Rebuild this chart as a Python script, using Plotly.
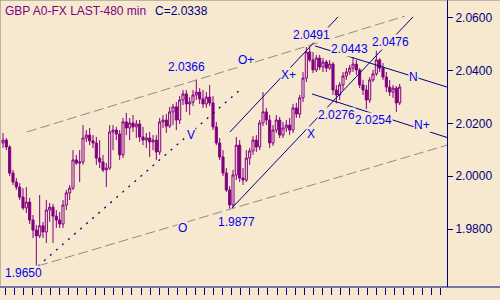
import plotly.graph_objects as go

# ---- data (GBP 480-min candles) ----
opens = [2.0126, 2.0137, 2.0111, 2.0012, 1.9978, 1.9959, 1.9921, 1.9880, 1.9902, 1.9834,
         1.9796, 1.9774, 1.9812, 1.9789, 1.9872, 1.9883, 1.9849, 1.9834, 1.9819, 1.9891,
         1.9937, 1.9955, 2.0062, 2.0050, 2.0054, 2.0145, 2.0156, 2.0134, 2.0126, 2.0069,
         2.0054, 2.0024, 2.0031, 2.0168, 2.0175, 2.0160, 2.0081, 2.0206, 2.0183, 2.0202,
         2.0187, 2.0198, 2.0149, 2.0137, 2.0145, 2.0130, 2.0137, 2.0092, 2.0206, 2.0213,
         2.0190, 2.0244, 2.0263, 2.0213, 2.0289, 2.0312, 2.0274, 2.0281, 2.0308, 2.0319,
         2.0293, 2.0274, 2.0300, 2.0278, 2.0187, 2.0126, 2.0073, 2.0012, 1.9948, 1.9891,
         2.0005, 2.0118, 1.9993, 1.9986, 2.0069, 2.0096, 2.0137, 2.0111, 2.0202, 2.0244,
         2.0213, 2.0126, 2.0175, 2.0213, 2.0156, 2.0183, 2.0194, 2.0175, 2.0259, 2.0236,
         2.0297, 2.0372, 2.0471, 2.0441, 2.0403, 2.0448, 2.0414, 2.0433, 2.0410, 2.0425,
         2.0327, 2.0308, 2.0346, 2.0380, 2.0395, 2.0410, 2.0425, 2.0403, 2.0346, 2.0327,
         2.0289, 2.0365, 2.0388, 2.0441, 2.0410, 2.0376, 2.0338, 2.0319, 2.0334, 2.0278]
highs = [2.0164, 2.0145, 2.0118, 2.0024, 1.9993, 1.9974, 1.9955, 1.9959, 1.9918, 1.9853,
         1.9815, 1.9929, 1.9827, 1.9910, 1.9899, 1.9895, 1.9872, 1.9865, 1.9910, 1.9948,
         1.9967, 2.0099, 2.0081, 2.0099, 2.0194, 2.0175, 2.0183, 2.0156, 2.0149, 2.0137,
         2.0081, 2.0050, 2.0194, 2.0194, 2.0187, 2.0175, 2.0221, 2.0240, 2.0221, 2.0232,
         2.0213, 2.0213, 2.0187, 2.0164, 2.0168, 2.0156, 2.0156, 2.0221, 2.0232, 2.0236,
         2.0263, 2.0274, 2.0281, 2.0304, 2.0327, 2.0327, 2.0300, 2.0327, 2.0366, 2.0334,
         2.0327, 2.0319, 2.0346, 2.0304, 2.0206, 2.0145, 2.0099, 2.0031, 1.9963, 2.0024,
         2.0149, 2.0137, 2.0031, 2.0099, 2.0107, 2.0152, 2.0156, 2.0213, 2.0319, 2.0259,
         2.0232, 2.0194, 2.0232, 2.0225, 2.0206, 2.0213, 2.0221, 2.0274, 2.0278, 2.0308,
         2.0395, 2.0490, 2.0491, 2.0471, 2.0460, 2.0460, 2.0448, 2.0441, 2.0441, 2.0433,
         2.0346, 2.0357, 2.0395, 2.0410, 2.0422, 2.0452, 2.0441, 2.0410, 2.0365, 2.0346,
         2.0376, 2.0403, 2.0476, 2.0448, 2.0429, 2.0395, 2.0365, 2.0346, 2.0342, 2.0350]
lows = [2.0107, 2.0099, 2.0001, 1.9967, 1.9948, 1.9910, 1.9872, 1.9861, 1.9819, 1.9766,
        1.9650, 1.9766, 1.9766, 1.9747, 1.9827, 1.9747, 1.9804, 1.9804, 1.9804, 1.9872,
        1.9910, 1.9948, 2.0043, 1.9978, 2.0043, 2.0130, 2.0118, 2.0107, 2.0043, 2.0031,
        2.0016, 1.9959, 2.0024, 2.0099, 2.0137, 2.0062, 2.0069, 2.0156, 2.0137, 2.0168,
        2.0145, 2.0130, 2.0118, 2.0107, 2.0073, 2.0099, 2.0062, 2.0081, 2.0183, 2.0164,
        2.0183, 2.0194, 2.0175, 2.0198, 2.0270, 2.0244, 2.0232, 2.0266, 2.0289, 2.0274,
        2.0259, 2.0259, 2.0266, 2.0175, 2.0118, 2.0062, 2.0001, 1.9940, 1.9877, 1.9880,
        1.9986, 1.9978, 1.9967, 1.9978, 2.0043, 2.0081, 2.0092, 2.0099, 2.0190, 2.0194,
        2.0107, 2.0115, 2.0164, 2.0145, 2.0145, 2.0168, 2.0156, 2.0164, 2.0221, 2.0221,
        2.0281, 2.0357, 2.0433, 2.0391, 2.0395, 2.0403, 2.0395, 2.0395, 2.0403, 2.0308,
        2.0276, 2.0289, 2.0327, 2.0365, 2.0384, 2.0395, 2.0384, 2.0334, 2.0308, 2.0254,
        2.0278, 2.0357, 2.0380, 2.0395, 2.0365, 2.0319, 2.0304, 2.0297, 2.0244, 2.0270]
closes = [2.0137, 2.0111, 2.0012, 1.9978, 1.9959, 1.9921, 1.9880, 1.9902, 1.9834, 1.9796,
          1.9774, 1.9812, 1.9789, 1.9872, 1.9883, 1.9849, 1.9834, 1.9819, 1.9891, 1.9937,
          1.9955, 2.0062, 2.0050, 2.0054, 2.0145, 2.0156, 2.0134, 2.0126, 2.0069, 2.0054,
          2.0024, 2.0031, 2.0168, 2.0175, 2.0160, 2.0081, 2.0206, 2.0183, 2.0202, 2.0187,
          2.0198, 2.0149, 2.0137, 2.0145, 2.0130, 2.0137, 2.0092, 2.0206, 2.0213, 2.0190,
          2.0244, 2.0263, 2.0213, 2.0289, 2.0312, 2.0274, 2.0281, 2.0308, 2.0319, 2.0293,
          2.0274, 2.0300, 2.0278, 2.0187, 2.0126, 2.0073, 2.0012, 1.9948, 1.9891, 2.0005,
          2.0118, 1.9993, 1.9986, 2.0069, 2.0096, 2.0137, 2.0111, 2.0202, 2.0244, 2.0213,
          2.0126, 2.0175, 2.0213, 2.0156, 2.0183, 2.0194, 2.0175, 2.0259, 2.0236, 2.0297,
          2.0372, 2.0471, 2.0441, 2.0403, 2.0448, 2.0414, 2.0433, 2.0410, 2.0425, 2.0327,
          2.0308, 2.0346, 2.0380, 2.0395, 2.0410, 2.0425, 2.0403, 2.0346, 2.0327, 2.0289,
          2.0365, 2.0388, 2.0441, 2.0410, 2.0376, 2.0338, 2.0319, 2.0334, 2.0278, 2.0338]
bars = list(range(len(closes)))

y_ticks = [1.98, 2.00, 2.02, 2.04, 2.06]

# trend lines: (bar0, price0, bar1, price1, style)
trend_lines = [
    (7.2, 2.0168, 120.6, 2.0607, "gray_dash"),    # upper channel (O+)
    (10.5, 1.9660, 133.2, 2.0118, "gray_dash"),   # lower channel (O)
    (10.5, 1.9660, 71.7, 2.0334, "dot"),          # V line
    (68.7, 1.9880, 123.0, 2.0604, "solid"),       # X line
    (68.1, 2.0168, 100.5, 2.0604, "solid"),       # X+ line
    (93.6, 2.0494, 133.2, 2.0338, "solid"),       # N line
    (92.7, 2.0312, 133.2, 2.0147, "solid"),       # N+ line
]

# text labels: (text, bar, price)
labels = [
    ("2.0366", 54.9, 2.0414), ("O+", 72.9, 2.0441), ("V", 56.4, 2.0158),
    ("O", 53.7, 1.9804), ("1.9877", 69.9, 1.9825), ("1.9650", 6.0, 1.9633),
    ("X+", 85.5, 2.0384), ("X", 92.4, 2.0160), ("2.0491", 92.4, 2.0535),
    ("2.0443", 103.8, 2.0482), ("2.0476", 116.1, 2.0509), ("N", 123.0, 2.0376),
    ("2.0276", 99.9, 2.0232), ("2.0254", 111.0, 2.0213), ("N+", 125.7, 2.0194),
]

BG = "#F7E9CF"
PURPLE = "#800080"
NAVY = "#000080"
LBL = "#0000EE"
FONT = "Liberation Sans, Arial, sans-serif"

fig = go.Figure()
fig.add_trace(go.Candlestick(
    x=bars, open=opens, high=highs, low=lows, close=closes,
    increasing=dict(line=dict(color=PURPLE, width=1), fillcolor=BG),
    decreasing=dict(line=dict(color=PURPLE, width=1), fillcolor=PURPLE),
    whiskerwidth=0, showlegend=False, hoverinfo="skip",
))

styles = {
    "gray_dash": dict(color="#8C8C8C", width=1, dash="10px,4px"),
    "dot": dict(color=NAVY, width=1.3, dash="2px,6px"),
    "solid": dict(color=NAVY, width=1),
}
shapes = []
for x0, y0, x1, y1, st in trend_lines:
    shapes.append(dict(type="line", xref="x", yref="y", x0=x0, y0=y0, x1=x1, y1=y1,
                       line=styles[st], layer="above"))
# frame lines
shapes.append(dict(type="line", xref="paper", yref="paper", x0=0, x1=500/447, y0=0, y1=0,
                   line=dict(color=NAVY, width=1)))
shapes.append(dict(type="line", xref="paper", yref="paper", x0=0, x1=500/447, y0=1, y1=1,
                   line=dict(color="#808080", width=1)))
shapes.append(dict(type="line", xref="paper", yref="paper", x0=0, x1=0, y0=0, y1=1,
                   line=dict(color="#808080", width=1)))

annotations = []
for txt, bx, py in labels:
    annotations.append(dict(text=txt, x=bx, y=py, xref="x", yref="y", showarrow=False,
                            font=dict(family=FONT, size=12, color=LBL),
                            bgcolor=BG, borderpad=0, xanchor="center", yanchor="middle"))
annotations.append(dict(text="GBP A0-FX LAST-480 min", x=3/447, y=1 - 2/287, xref="paper", yref="paper",
                        showarrow=False, xanchor="left", yanchor="top",
                        font=dict(family=FONT, size=12, color=PURPLE)))
annotations.append(dict(text="C=2.0338", x=153/447, y=1 - 2/287, xref="paper", yref="paper",
                        showarrow=False, xanchor="left", yanchor="top",
                        font=dict(family=FONT, size=12, color=NAVY)))

fig.update_layout(
    width=500, height=300,
    margin=dict(l=0, r=53, t=0, b=13),
    paper_bgcolor=BG, plot_bgcolor=BG,
    shapes=shapes, annotations=annotations,
    boxgap=0.1,
    xaxis=dict(range=[-0.9, 133.2], showgrid=False, zeroline=False, showline=False,
               rangeslider=dict(visible=False), showticklabels=False,
               ticks="outside", ticklen=7, tickcolor=NAVY, tickwidth=1,
               tick0=0.6, dtick=2.72, fixedrange=True),
    yaxis=dict(side="right", range=[1.95803, 2.0668], showgrid=False, zeroline=False,
               showline=True, linecolor=NAVY, linewidth=1,
               tickvals=y_ticks, tickformat=".4f", ticks="outside", ticklen=5,
               tickcolor=NAVY, tickfont=dict(family=FONT, size=12, color=NAVY)),
)

fig.write_html("out.html")
